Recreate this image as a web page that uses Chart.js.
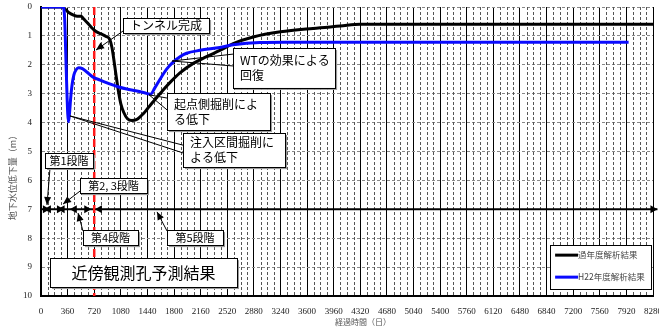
<!DOCTYPE html>
<html>
<head>
<meta charset="utf-8">
<script src="https://cdn.jsdelivr.net/npm/chart.js@4/dist/chart.umd.min.js"></script>
<style>
html,body{margin:0;padding:0;background:#fff}
#wrap{width:659px;height:328px}
</style>
</head>
<body>
<div id="wrap"><canvas id="chart" width="659" height="328"></canvas></div>
<script>
// ================= DATA =================
const kanenLabel="過年度解析結果";
const kanenDays=[0,290,330,380,440,490,540,580,630,680,740,810,880,930,960,990,1020,1050,1080,1120,1170,1230,1290,1340,1390,1440,1500,1570,1650,1750,1880,2060,2240,2420,2600,2870,3240,3680,4050,4320,8280];
const kanenVals=[0,0,0.08,0.2,0.28,0.32,0.32,0.42,0.55,0.7,0.84,0.93,1.02,1.12,1.4,1.9,2.45,2.95,3.35,3.65,3.87,3.93,3.9,3.8,3.68,3.52,3.33,3.12,2.88,2.6,2.28,1.95,1.72,1.5,1.27,1.04,0.86,0.74,0.66,0.6,0.6];

const h22Label="H22年度解析結果";
const h22Days=[0,300,320,335,350,362,372,385,400,420,445,475,510,560,620,700,800,920,1040,1160,1280,1400,1480,1540,1610,1700,1790,1880,1970,2150,2420,2600,2960,3300,7950];
const h22Vals=[0,0,0.4,1.6,2.9,3.7,3.97,3.7,3.2,2.7,2.35,2.17,2.1,2.13,2.25,2.42,2.53,2.65,2.76,2.84,2.9,2.97,3.02,2.8,2.5,2.15,1.9,1.72,1.6,1.5,1.4,1.31,1.23,1.22,1.22];

// tunnel completion (day)
const tunnelDay=720;

// construction stages on the 7 m line
const stageLevel=7;
const stageStart=[40,225,390,730];
const stageEnd=[120,310,680,8340];

// axes
const xMax=8280, xStep=360, xMinorStep=90;
const yMax=10, yStep=1;

// ================= ANNOTATIONS (data coords) =================
const notes=[
{lines:["トンネル完成"],box:[1110,0.38,2274,0.90],size:12,center:true,arrow:[[1110,0.83],[744,1.49]]},
{lines:["WTの効果による","回復"],box:[2598,1.42,3979,2.80],size:12,lead:[[1773,1.87],[2598,1.63],[2598,2.04]]},
{lines:["起点側掘削によ","る低下"],box:[1705,2.98,3099,4.26],size:12,lead:[[1462,3.04],[1705,3.15],[1705,3.56]]},
{lines:["注入区間掘削に","よる低下"],box:[1922,4.36,3302,5.54],size:12,lead:[[392,3.77],[1922,4.78],[1922,5.05]]},
{lines:["第1段階"],box:[54,5.05,704,5.57],size:11,center:true,arrow:[[122,5.57],[81,6.85]]},
{lines:["第2, 3段階"],box:[528,5.92,1434,6.44],size:11,center:true,arrow:[[528,6.37],[298,6.82]]},
{lines:["第4段階"],box:[568,7.72,1313,8.24],size:11,center:true,arrow:[[568,7.75],[501,7.13]]},
{lines:["第5段階"],box:[1705,7.72,2463,8.24],size:11,center:true,arrow:[[1705,7.75],[1570,7.09]]},
{lines:["近傍観測孔予測結果"],box:[122,8.69,2652,9.69],size:16,center:true}
];
const legendBox=[6888,8.24,8255,9.76];

const CJK="'Noto Sans CJK JP','Noto Sans',sans-serif";

// ================= HELPERS =================
function head(ctx,tx,ty,fx,fy,len,half){
let a=Math.atan2(ty-fy,tx-fx);
ctx.beginPath();
ctx.moveTo(tx,ty);
ctx.lineTo(tx-len*Math.cos(a)+half*Math.sin(a),ty-len*Math.sin(a)-half*Math.cos(a));
ctx.lineTo(tx-len*Math.cos(a)-half*Math.sin(a),ty-len*Math.sin(a)+half*Math.cos(a));
ctx.closePath();
ctx.fill();
}

const extras={
id:"extras",
beforeDatasetsDraw(chart){
const {ctx,chartArea:a,scales:{x}}=chart;
ctx.save();
ctx.strokeStyle="#555";
ctx.lineWidth=1;
ctx.setLineDash([3,2]);
for(let d=xMinorStep;d<xMax;d+=xMinorStep){
if(d%xStep===0) continue;
let px=Math.round(x.getPixelForValue(d))+0.5;
ctx.beginPath();ctx.moveTo(px,a.top);ctx.lineTo(px,a.bottom);ctx.stroke();
}
ctx.restore();
},
afterDatasetsDraw(chart){
const {ctx,chartArea:a,scales:{x,y}}=chart;
const X=v=>x.getPixelForValue(v), Y=v=>y.getPixelForValue(v);
ctx.save();

// stage arrowheads
ctx.fillStyle="#000";
stageStart.forEach((s,i)=>{
let py=Y(stageLevel);
head(ctx,X(s),py,X(s)+10,py,7,4);
head(ctx,X(stageEnd[i]),py,X(stageEnd[i])-10,py,7,4);
});

// callouts
notes.forEach(n=>{
let x1=X(n.box[0]),y1=Y(n.box[1]),x2=X(n.box[2]),y2=Y(n.box[3]);
ctx.strokeStyle="#000";ctx.fillStyle="#000";ctx.lineWidth=1;
if(n.arrow){
let [f,t]=n.arrow;
ctx.beginPath();ctx.moveTo(X(f[0]),Y(f[1]));ctx.lineTo(X(t[0]),Y(t[1]));ctx.stroke();
head(ctx,X(t[0]),Y(t[1]),X(f[0]),Y(f[1]),8,3.5);
}
if(n.lead){
let [p,b1,b2]=n.lead;
ctx.beginPath();
ctx.moveTo(X(b1[0]),Y(b1[1]));ctx.lineTo(X(p[0]),Y(p[1]));ctx.lineTo(X(b2[0]),Y(b2[1]));
ctx.stroke();
}
ctx.fillStyle="#9a9a9a";
ctx.fillRect(x1+2,y1+2,x2-x1,y2-y1);
ctx.fillStyle="#fff";
ctx.fillRect(x1,y1,x2-x1,y2-y1);
ctx.strokeRect(Math.round(x1)+0.5,Math.round(y1)+0.5,Math.round(x2-x1),Math.round(y2-y1));
ctx.fillStyle="#000";
ctx.font=n.size+"px "+CJK;
ctx.textBaseline="middle";
let lh=n.size+3;
let cy=(y1+y2)/2-(n.lines.length-1)*lh/2;
n.lines.forEach((t,i)=>{
if(n.center){ctx.textAlign="center";ctx.fillText(t,(x1+x2)/2,cy+i*lh);}
else{ctx.textAlign="left";ctx.fillText(t,x1+7,cy+i*lh);}
});
});

// legend
let lx1=X(legendBox[0]),ly1=Y(legendBox[1]),lx2=X(legendBox[2]),ly2=Y(legendBox[3]);
ctx.fillStyle="#fff";
ctx.fillRect(lx1,ly1,lx2-lx1,ly2-ly1);
ctx.strokeStyle="#000";ctx.lineWidth=1;
ctx.strokeRect(Math.round(lx1)+0.5,Math.round(ly1)+0.5,Math.round(lx2-lx1),Math.round(ly2-ly1));
[0,1].forEach(i=>{
let ds=chart.data.datasets[i];
let ly=ly1+10+i*22;
ctx.strokeStyle=ds.borderColor;ctx.lineWidth=3;
ctx.beginPath();ctx.moveTo(lx1+5,ly);ctx.lineTo(lx1+28,ly);ctx.stroke();
ctx.fillStyle="#444";
ctx.font="8.5px "+CJK;
ctx.textAlign="left";ctx.textBaseline="middle";
ctx.fillText(ds.label,lx1+28,ly);
});

// axis titles
ctx.fillStyle="#555";
ctx.font="8px "+CJK;
ctx.textAlign="center";ctx.textBaseline="middle";
ctx.fillText("経過時間（日）",(a.left+a.right)/2+16,322);
ctx.translate(13,(a.top+a.bottom)/2+24);
ctx.rotate(-Math.PI/2);
ctx.font="9px "+CJK;
ctx.fillText("地下水位低下量（m）",0,0);
ctx.restore();
}
};

// ================= CHART =================
const toXY=(xs,ys)=>xs.map((d,i)=>({x:d,y:ys[i]}));
const tickFont={family:"'Liberation Serif','Times New Roman',serif",size:9};

new Chart(document.getElementById("chart"),{
type:"line",
data:{
datasets:[
{label:kanenLabel,data:toXY(kanenDays,kanenVals),borderColor:"#000",borderWidth:3,pointRadius:0,cubicInterpolationMode:"monotone",order:2},
{label:h22Label,data:toXY(h22Days,h22Vals),borderColor:"#0a0aff",borderWidth:3,pointRadius:0,cubicInterpolationMode:"monotone",order:1},
{label:"tunnel",data:[{x:tunnelDay,y:0},{x:tunnelDay,y:yMax}],borderColor:"#ff1a1a",borderWidth:2.5,borderDash:[8,3],pointRadius:0,order:3},
{label:"stages",data:[{x:0,y:stageLevel},{x:stageEnd[stageEnd.length-1],y:stageLevel}],borderColor:"#000",borderWidth:2,pointRadius:0,clip:false,order:4}
]
},
options:{
responsive:false,
devicePixelRatio:1,
animation:false,
layout:{padding:{top:7,right:6,left:0,bottom:0},autoPadding:false},
plugins:{legend:{display:false},tooltip:{enabled:false}},
scales:{
x:{
type:"linear",min:0,max:xMax,
ticks:{stepSize:xStep,autoSkip:false,maxRotation:0,padding:10,color:"#222",font:tickFont,callback:v=>String(v)},
grid:{color:"#000",lineWidth:1,drawTicks:false},
border:{color:"#000",width:2},
afterFit:s=>{s.height=32;s.paddingLeft=0;s.paddingRight=0;}
},
y:{
type:"linear",reverse:true,min:0,max:yMax,
ticks:{stepSize:yStep,padding:9,color:"#222",font:tickFont,callback:v=>String(v)},
grid:{color:"#888",lineWidth:1,drawTicks:false},
border:{color:"#000",width:2,dash:[3,2]},
afterFit:s=>{s.width=41;s.paddingTop=0;s.paddingBottom=0;}
}
}
},
plugins:[extras]
});
</script>
</body>
</html>
